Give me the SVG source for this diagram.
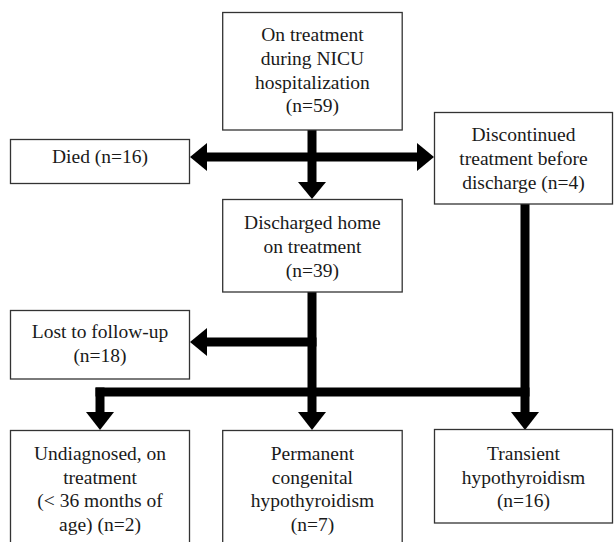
<svg xmlns="http://www.w3.org/2000/svg" width="614" height="542" viewBox="0 0 614 542" font-family="Liberation Serif, Times New Roman, DejaVu Serif, serif">
<style>
.box{fill:#fff;stroke:#333;stroke-width:1.3}
.t{font-size:19.5px;fill:#1a1a1a;text-anchor:middle}
.ln{stroke:#000;stroke-width:9;fill:none}
.hd{fill:#000;stroke:none}
</style>
<rect width="614" height="542" fill="#fff"/>
<g id="connectors">
<line class="ln" x1="312" y1="130" x2="312" y2="184"/>
<polygon class="hd" points="298,182 326,182 312,199"/>
<line class="ln" x1="205" y1="157" x2="419" y2="157"/>
<polygon class="hd" points="207,143 207,171 190,157"/>
<polygon class="hd" points="417,143 417,171 434,157"/>
<line class="ln" x1="312" y1="292" x2="312" y2="414"/>
<line class="ln" x1="316.5" y1="342" x2="205" y2="342"/>
<polygon class="hd" points="207,328 207,356 190,342"/>
<line class="ln" x1="525" y1="204" x2="525" y2="414"/>
<line class="ln" x1="95.5" y1="392" x2="529.5" y2="392"/>
<line class="ln" x1="100" y1="387.5" x2="100" y2="414"/>
<polygon class="hd" points="86,412 114,412 100,430"/>
<polygon class="hd" points="298,412 326,412 312,430"/>
<polygon class="hd" points="511,412 539,412 525,430"/>
</g>
<g id="n-top">
<rect class="box" x="222.7" y="12.5" width="179.5" height="117.5"/>
<text class="t" x="312.4" y="41">On treatment</text>
<text class="t" x="312.4" y="65">during NICU</text>
<text class="t" x="312.4" y="88.5">hospitalization</text>
<text class="t" x="312.4" y="112">(n=59)</text>
</g>
<g id="n-died">
<rect class="box" x="10.5" y="139.5" width="179" height="44"/>
<text class="t" x="100" y="163">Died (n=16)</text>
</g>
<g id="n-disc">
<rect class="box" x="434.5" y="112.5" width="178" height="91.5"/>
<text class="t" x="523.5" y="141">Discontinued</text>
<text class="t" x="523.5" y="165">treatment  before</text>
<text class="t" x="523.5" y="188.5">discharge (n=4)</text>
</g>
<g id="n-home">
<rect class="box" x="222.7" y="199.5" width="179.5" height="92.5"/>
<text class="t" x="312.4" y="229">Discharged home</text>
<text class="t" x="312.4" y="253">on treatment</text>
<text class="t" x="312.4" y="277">(n=39)</text>
</g>
<g id="n-lost">
<rect class="box" x="10.5" y="310.5" width="179" height="68.5"/>
<text class="t" x="100" y="338">Lost to follow-up</text>
<text class="t" x="100" y="362">(n=18)</text>
</g>
<g id="n-undiag">
<rect class="box" x="10.5" y="430.5" width="179" height="120"/>
<text class="t" x="100" y="460">Undiagnosed, on</text>
<text class="t" x="100" y="483.5">treatment</text>
<text class="t" x="100" y="507">(&lt; 36 months of</text>
<text class="t" x="100" y="530.5">age) (n=2)</text>
</g>
<g id="n-perm">
<rect class="box" x="222.7" y="430.5" width="179.5" height="120"/>
<text class="t" x="312.4" y="460">Permanent</text>
<text class="t" x="312.4" y="483.5">congenital</text>
<text class="t" x="312.4" y="507">hypothyroidism</text>
<text class="t" x="312.4" y="530.5">(n=7)</text>
</g>
<g id="n-trans">
<rect class="box" x="434.5" y="429.5" width="178" height="93.5"/>
<text class="t" x="523.5" y="460">Transient</text>
<text class="t" x="523.5" y="483.5">hypothyroidism</text>
<text class="t" x="523.5" y="507">(n=16)</text>
</g>
</svg>
